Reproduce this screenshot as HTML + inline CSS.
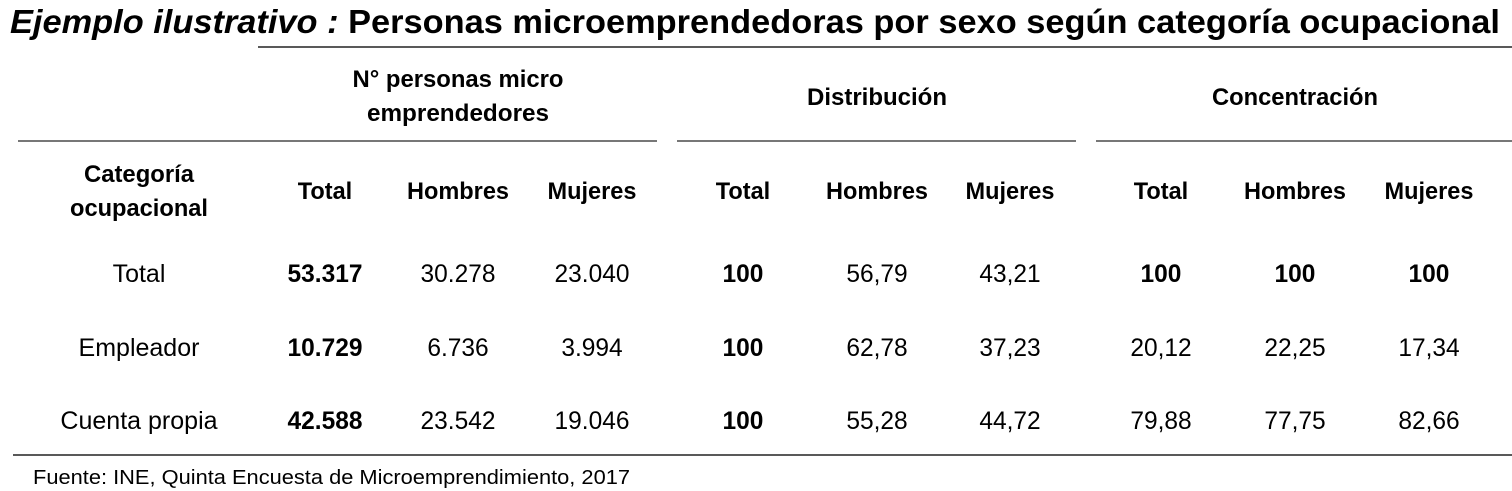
<!DOCTYPE html>
<html><head><meta charset="utf-8"><style>
html,body{margin:0;padding:0;background:#fff;width:1512px;height:491px;overflow:hidden}
svg text{font-family:"Liberation Sans",sans-serif;fill:#000}
</style></head><body>
<svg id="svg" width="1512" height="491" viewBox="0 0 1512 491">
<text x="10" y="33" font-size="33" textLength="1490" lengthAdjust="spacingAndGlyphs"><tspan font-style="italic" font-weight="bold">Ejemplo ilustrativo :</tspan><tspan font-weight="bold"> Personas microemprendedoras por sexo según categoría ocupacional</tspan></text>
<line x1="258" y1="47" x2="1512" y2="47" stroke="#222" stroke-width="1.5"/>
<g font-weight="bold" font-size="24" text-anchor="middle">
<text x="458" y="87" textLength="211" lengthAdjust="spacingAndGlyphs">N° personas micro</text>
<text x="458" y="121" textLength="182" lengthAdjust="spacingAndGlyphs">emprendedores</text>
<text x="877" y="105" textLength="140" lengthAdjust="spacingAndGlyphs">Distribución</text>
<text x="1295" y="105" textLength="166" lengthAdjust="spacingAndGlyphs">Concentración</text>
</g>
<g stroke="#777" stroke-width="2">
<line x1="18" y1="141" x2="657" y2="141"/>
<line x1="677" y1="141" x2="1076" y2="141"/>
<line x1="1096" y1="141" x2="1512" y2="141"/>
</g>
<g font-weight="bold" font-size="24" text-anchor="middle">
<text x="139" y="182" textLength="110" lengthAdjust="spacingAndGlyphs">Categoría</text>
<text x="139" y="216" textLength="138" lengthAdjust="spacingAndGlyphs">ocupacional</text>
</g>
<g id="hdr" font-weight="bold" font-size="24" text-anchor="middle"></g>
<g id="body" font-size="25" text-anchor="middle"></g>
<line x1="13" y1="455" x2="1512" y2="455" stroke="#222" stroke-width="1.5"/>
<text x="33" y="484" font-size="20" textLength="597" lengthAdjust="spacingAndGlyphs">Fuente: INE, Quinta Encuesta de Microemprendimiento, 2017</text>
</svg>
<script>
const categories=["Total","Empleador","Cuenta propia"];
const subHeaders=["Total","Hombres","Mujeres","Total","Hombres","Mujeres","Total","Hombres","Mujeres"];
const counts=[["53.317","30.278","23.040"],["10.729","6.736","3.994"],["42.588","23.542","19.046"]];
const distribution=[["100","56,79","43,21"],["100","62,78","37,23"],["100","55,28","44,72"]];
const concentration=[["100","100","100"],["20,12","22,25","17,34"],["79,88","77,75","82,66"]];
const NS="http://www.w3.org/2000/svg";
const colX=[325,458,592,743,877,1010,1161,1295,1429];
const rowY=[282,356,429];
function t(parent,x,y,s,bold,f){const e=document.createElementNS(NS,"text");e.setAttribute("x",x);e.setAttribute("y",y);if(bold)e.setAttribute("font-weight","bold");e.textContent=s;parent.appendChild(e);
 const w=e.getComputedTextLength();e.setAttribute("textLength",(w*f).toFixed(1));e.setAttribute("lengthAdjust","spacingAndGlyphs");return e;}
const hdr=document.getElementById("hdr");
subHeaders.forEach((h,i)=>{const e=t(hdr,colX[i],199,h,true,0.98);

});
const body=document.getElementById("body");
categories.forEach((c,r)=>{
 const e=t(body,139,rowY[r],c,false,1.0);
 
 
 const vals=[...counts[r],...distribution[r],...concentration[r]];
 vals.forEach((v,i)=>{
  const bold=(i===0||i===3)||(r===0&&i>=6);
  const c2=t(body,colX[i],rowY[r],v,bold,0.98);
  
  
 });
});
</script>
</body></html>
